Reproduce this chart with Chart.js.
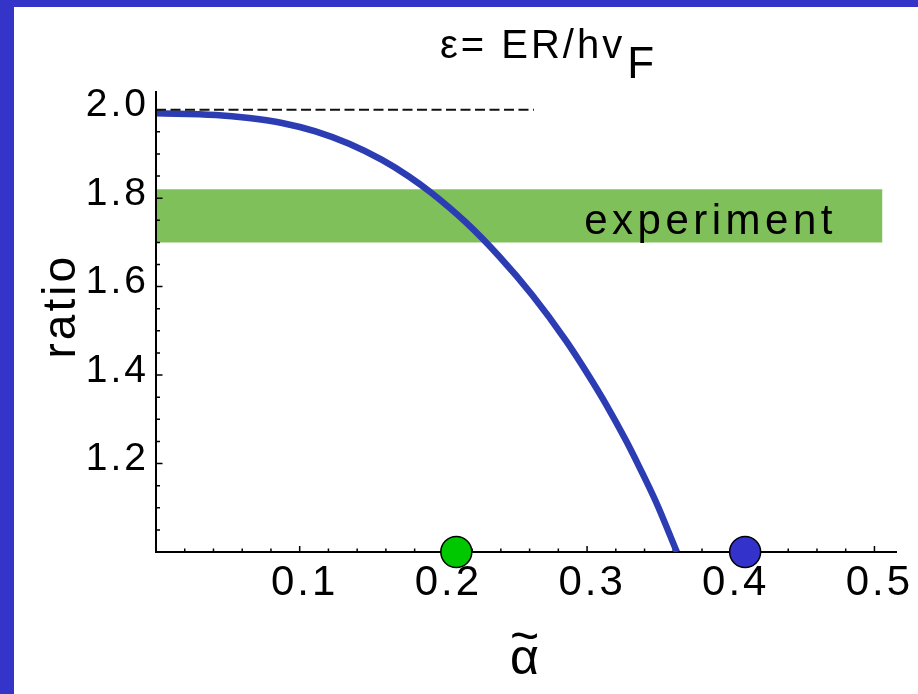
<!DOCTYPE html>
<html><head><meta charset="utf-8">
<script src="https://cdn.jsdelivr.net/npm/chart.js@4"></script>
<style>
html,body{margin:0;padding:0;background:#3434C8;width:918px;height:694px;overflow:hidden}
#wrap{position:absolute;left:14px;top:7px;width:904px;height:687px;background:#fff}
canvas{display:block}
</style></head><body>
<div id="wrap"><canvas id="c" width="904" height="687"></canvas></div>
<script>
// ---- data ----
const curveAlpha = [0, 0.0416, 0.0648, 0.0877, 0.111, 0.1344, 0.157, 0.176, 0.192, 0.2157, 0.2389, 0.2618, 0.2853, 0.3015, 0.3132, 0.3271, 0.3364, 0.348, 0.3625];
const curveRatio = [1.992, 1.988, 1.981, 1.970, 1.951, 1.923, 1.887, 1.849, 1.811, 1.745, 1.668, 1.581, 1.478, 1.397, 1.334, 1.252, 1.192, 1.113, 1.0];
const dotAlpha = [0.209, 0.410];
const dotRatio = [1.0, 1.0];
const dotColors = ['#00C800', '#3333CC'];
const refAlpha = [0, 0.263];
const refRatio = [2.0, 2.0];
const bandAlpha = [0, 0.5056];
const bandTop = [1.82, 1.82];
const bandBottom = [1.70, 1.70];
const bandLabel = 'experiment';
const bandLabelPos = [0.298, 1.72];
const xTickValues = [0.1, 0.2, 0.3, 0.4, 0.5];
const yTickValues = [1.2, 1.4, 1.6, 1.8, 2.0];
const xMinorTicks = [0.02,0.04,0.06,0.08,0.10,0.12,0.14,0.16,0.18,0.20,0.22,0.24,0.26,0.28,0.30,0.32,0.34,0.36,0.38,0.40,0.42,0.44,0.46,0.48,0.50];
const yMinorTicks = [1.05,1.10,1.15,1.20,1.25,1.30,1.35,1.40,1.45,1.50,1.55,1.60,1.65,1.70,1.75,1.80,1.85,1.90,1.95,2.00];
const titleMain = 'ε= ER/hv';
const titleSub = 'F';
const yTitle = '\u00a0\u00a0ratio';
const xTitle = ['~', 'α'];

const FAM = "'Liberation Sans', Arial, sans-serif";
const pts = (xs, ys) => xs.map((v, i) => ({x: v, y: ys[i]}));

const spacingPlugin = {
  id: 'spacing',
  beforeDraw(chart) { chart.ctx.letterSpacing = '3px'; }
};

const inwardTicks = {
  id: 'inwardTicks',
  afterDatasetDraw(chart, args) {
    if (args.index !== 3) return;
    const {ctx, chartArea, scales: {x, y}} = chart;
    ctx.save();
    ctx.strokeStyle = '#000';
    ctx.lineWidth = 1.5;
    ctx.beginPath();
    xMinorTicks.forEach(v => {
      const major = xTickValues.some(t => Math.abs(t - v) < 1e-6);
      const len = major ? 6 : 3.5;
      const px = x.getPixelForValue(v);
      ctx.moveTo(px, chartArea.bottom);
      ctx.lineTo(px, chartArea.bottom - len);
    });
    yMinorTicks.forEach(v => {
      const major = yTickValues.some(t => Math.abs(t - v) < 1e-6);
      const len = major ? 6.5 : 4;
      const py = y.getPixelForValue(v);
      ctx.moveTo(chartArea.left, py);
      ctx.lineTo(chartArea.left + len, py);
    });
    ctx.stroke();
    ctx.restore();
  }
};

const textPlugin = {
  id: 'texts',
  afterDraw(chart) {
    const {ctx, scales: {x, y}} = chart;
    ctx.save();
    ctx.fillStyle = '#000';
    ctx.textBaseline = 'alphabetic';
    ctx.textAlign = 'left';
    // band label
    ctx.letterSpacing = '4.5px';
    ctx.font = '42px ' + FAM;
    ctx.fillText(bandLabel, x.getPixelForValue(bandLabelPos[0]), y.getPixelForValue(bandLabelPos[1]));
    // title
    ctx.letterSpacing = '3px';
    ctx.font = '40px ' + FAM;
    ctx.fillText(titleMain, 426, 51);
    const w = ctx.measureText(titleMain).width;
    ctx.letterSpacing = '0px';
    ctx.font = '44px ' + FAM;
    ctx.fillText(titleSub, 426 + w + 2, 71);
    ctx.restore();
  }
};

new Chart(document.getElementById('c'), {
  type: 'scatter',
  data: {
    datasets: [
      {data: pts(dotAlpha, dotRatio), showLine: false, pointRadius: 15.5, pointHoverRadius: 15.5,
       pointBackgroundColor: dotColors, pointBorderColor: '#000', pointBorderWidth: 1.5, clip: false},
      {data: pts(refAlpha, refRatio), showLine: true, borderColor: '#111', borderWidth: 2,
       borderDash: [10, 4.5], pointRadius: 0, fill: false},
      {data: pts(curveAlpha, curveRatio), showLine: true, borderColor: '#2c3db3', borderWidth: 6.5,
       tension: 0.4, cubicInterpolationMode: 'monotone', pointRadius: 0, fill: false},
      {data: pts(bandAlpha, bandTop), showLine: true, borderColor: 'rgba(0,0,0,0)', pointRadius: 0, fill: false},
      {data: pts(bandAlpha, bandBottom), showLine: true, borderColor: 'rgba(0,0,0,0)', pointRadius: 0,
       fill: '-1', backgroundColor: '#80c05a'}
    ]
  },
  options: {
    responsive: false,
    animation: false,
    devicePixelRatio: 1,
    layout: {padding: {left: 0, top: 85, right: 22, bottom: 0}},
    plugins: {legend: {display: false}, tooltip: {enabled: false}},
    events: [],
    scales: {
      x: {
        type: 'linear', min: 0, max: 0.515,
        afterBuildTicks: s => { s.ticks = xTickValues.map(v => ({value: v})); },
        afterFit: s => { s.height = 142; },
        grid: {drawOnChartArea: false, drawTicks: false},
        border: {display: true, color: '#000', width: 2, z: 0},
        ticks: {autoSkip: false, maxRotation: 0, minRotation: 0, padding: 6, labelOffset: 5, color: '#000',
                font: {family: FAM, size: 42}, callback: v => Number(v).toFixed(1)},
        title: {display: true, text: xTitle, color: '#000', font: {family: FAM, size: 50, lineHeight: 0.41},
                padding: {top: 0, bottom: 24}}
      },
      y: {
        type: 'linear', min: 1.0, max: 2.04,
        afterBuildTicks: s => { s.ticks = yTickValues.map(v => ({value: v})); },
        afterFit: s => { s.width = 142; },
        grid: {drawOnChartArea: false, drawTicks: false},
        border: {display: true, color: '#000', width: 2, z: 1},
        ticks: {autoSkip: false, padding: 7, labelOffset: -4, color: '#000',
                font: {family: FAM, size: 39}, callback: v => Number(v).toFixed(1)},
        title: {display: true, text: yTitle, color: '#000', font: {family: FAM, size: 46, lineHeight: 1.2},
                padding: {top: 21, bottom: 0}}
      }
    }
  },
  plugins: [spacingPlugin, inwardTicks, textPlugin]
});
</script>
</body></html>
